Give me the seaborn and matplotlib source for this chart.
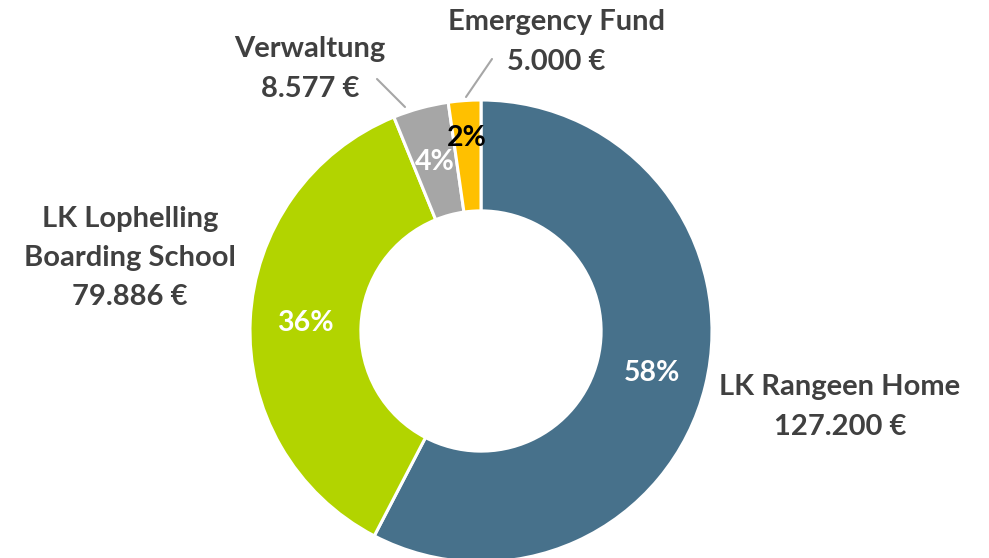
import numpy as np
import matplotlib.pyplot as plt
import seaborn as sns

# data
names = ["LK Rangeen Home", "LK Lophelling\nBoarding School", "Verwaltung", "Emergency Fund"]
amounts = [127200, 79886, 8577, 5000]
amount_labels = ["127.200 €", "79.886 €", "8.577 €", "5.000 €"]
colors = ["#47718B", "#B2D400", "#A6A6A6", "#FFC000"]
pct_colors = ["white", "white", "white", "black"]

sns.set_theme(style="white")
plt.rcParams['font.family'] = ['Lato', 'DejaVu Sans']

fig = plt.figure(figsize=(9.89, 5.58), dpi=100)
ax = fig.add_axes([0, 0, 1, 1])

# pixel -> data helpers (center of donut at pixel 481,331, radius 231 px)
cx, cy, R = 481, 331, 231
def px(x, y):
    return (x - cx) / R, (cy - y) / R

wedges, texts, autotexts = ax.pie(
    amounts, colors=colors, startangle=90, counterclock=False,
    radius=1.0, autopct='%.0f%%', pctdistance=0.76,
    wedgeprops=dict(width=0.48, edgecolor='white', linewidth=2.2),
    textprops=dict(fontsize=20.5, fontweight='bold'))

for t, c in zip(autotexts, pct_colors):
    t.set_color(c)
# the small yellow slice carries its label a bit further out
x, y = autotexts[3].get_position()
autotexts[3].set_position((x * 1.1, y * 1.1))

ax.set_aspect('equal')
ax.set_xlim(-cx / R, (989 - cx) / R)
ax.set_ylim((cy - 558) / R, cy / R)
ax.axis('off')

label_pos = [(840, 407), (130, 258), (310, 69), (556, 42)]
text_color = "#404040"
for name, amt, (lx, ly) in zip(names, amount_labels, label_pos):
    ax.text(*px(lx, ly), f"{name}\n{amt}", ha='center', va='center',
            fontsize=21, fontweight='bold', color=text_color, linespacing=1.62)

# leader lines
for (x0, y0), (x1, y1) in [((377, 79), (405, 107)), ((492, 59), (466, 97))]:
    a, b = px(x0, y0)
    c, d = px(x1, y1)
    ax.plot([a, c], [b, d], color="#A6A6A6", lw=1.5)

fig.savefig("out.png", dpi=100)
